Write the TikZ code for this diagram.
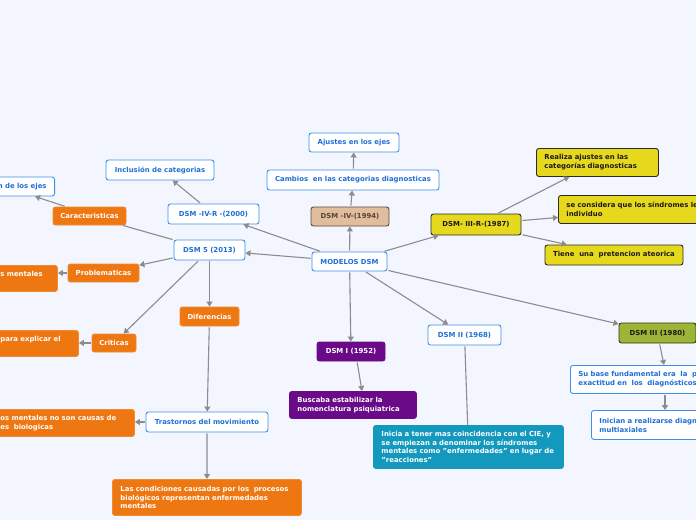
\documentclass[tikz,border=0pt]{standalone}
\usepackage{fontspec}
\setmainfont{DejaVu Sans}
\usetikzlibrary{arrows.meta}
\definecolor{bg}{HTML}{F3F6FE}
\definecolor{bluebd}{HTML}{3D8FEA}
\definecolor{bluetx}{HTML}{1E6FD8}
\definecolor{orfill}{HTML}{EE7711}
\definecolor{orbd}{HTML}{F08A33}
\definecolor{yefill}{HTML}{E6D81C}
\definecolor{darkbd}{HTML}{2A2A2A}
\definecolor{darktx}{HTML}{1A1A1A}
\definecolor{tanfill}{HTML}{E0BD9C}
\definecolor{tanbd}{HTML}{5C4B3B}
\definecolor{tantx}{HTML}{5A4535}
\definecolor{olfill}{HTML}{9DB536}
\definecolor{olbd}{HTML}{2E3A10}
\definecolor{pufill}{HTML}{6B0A88}
\definecolor{tefill}{HTML}{1399BD}
\definecolor{linec}{HTML}{8C8C8C}
\newcommand{\tf}{\fontsize{6.9}{8.8}\selectfont\bfseries}
\begin{document}
\begin{tikzpicture}[x=1pt,y=-1pt,
  box/.style={rounded corners=2.5pt, line width=0.9pt, inner sep=0pt, font=\tf, align=center},
  bl/.style={box, draw=bluebd, fill=white, text=bluetx},
  orb/.style={box, draw=orbd, fill=orfill, text=white},
  ye/.style={box, draw=darkbd, fill=yefill, text=darktx},
  tanb/.style={box, draw=tanbd, fill=tanfill, text=tantx},
  olb/.style={box, draw=olbd, fill=olfill, text=darktx},
  pub/.style={box, draw=pufill, fill=pufill, text=white},
  teb/.style={box, draw=tefill, fill=tefill, text=white},
  ml/.style={anchor=north west, align=left, inner xsep=8pt, text width=#1},
  arr/.style={draw=linec, line width=1.1pt, -{Triangle[width=6pt,length=5pt]}, shorten <=1pt},
  ln/.style={draw=linec, line width=1.1pt, shorten <=1pt}
]
\fill[bg] (0,0) rectangle (696,520);
\useasboundingbox (0,0) rectangle (696,520);

\node[bl, minimum width=75pt, minimum height=19pt] (m) at (349.5,261.5) {MODELOS DSM};
\node[tanb, minimum width=78pt, minimum height=19pt] (d94) at (350,216.5) {DSM -IV-(1994)};
\node[bl, minimum width=172pt, minimum height=20pt] (camb) at (353,180) {Cambios\ \ en las categorias diagnosticas};
\node[bl, minimum width=90pt, minimum height=19pt] (ajus) at (354,142.5) {Ajustes en los ejes};
\node[ye, minimum width=90pt, minimum height=21pt] (d87) at (476,224.5) {DSM- III-R-(1987)};
\node[ye, ml=106pt, minimum height=28pt] (real) at (536,148) {Realiza ajustes en las\\categorías diagnosticas};
\node[ye, ml=170pt, minimum height=28pt] (secons) at (558,195) {se considera que los síndromes le\\individuo};
\node[ye, minimum width=138pt, minimum height=20pt] (tiene) at (614,255) {Tiene\ \ una\ \ pretencion ateorica};
\node[olb, minimum width=77pt, minimum height=20pt] (d80) at (657.5,333) {DSM III (1980)};
\node[bl, ml=150pt, minimum height=28pt] (subase) at (570,365) {Su base fundamental era\ \ la\ \ p\\exactitud en\ \ los\ \ diagnósticos};
\node[bl, ml=150pt, minimum height=29pt] (inic) at (591,410) {Inician a realizarse diagnósticos\\multiaxiales};
\node[bl, minimum width=73pt, minimum height=20pt] (d68) at (464.5,335) {DSM II (1968)};
\node[teb, ml=174pt, minimum height=43pt] (ini) at (373,425) {Inicia a tener mas coincidencia con el CIE, y\\se empiezan a denominar los síndromes\\mentales como "enfermedades" en lugar de\\"reacciones"};
\node[pub, minimum width=68pt, minimum height=19pt] (d52) at (351,351.5) {DSM I (1952)};
\node[pub, ml=111pt, minimum height=27pt] (busc) at (289,391) {Buscaba estabilizar la\\nomenclatura psiquiatrica};
\node[bl, minimum width=71pt, minimum height=20pt] (d5) at (209.5,250) {DSM 5 (2013)};
\node[bl, minimum width=91pt, minimum height=20pt] (d00) at (213.5,214) {DSM -IV-R -(2000)};
\node[bl, minimum width=108pt, minimum height=20pt] (incl) at (160,170) {Inclusión de categorias};
\node[orb, minimum width=73pt, minimum height=18pt] (car) at (89.5,216) {Caracteristicas};
\node[bl, anchor=east, inner xsep=8pt, minimum height=19pt] (ejes) at (55,186.5) {n de los ejes};
\node[orb, minimum width=71pt, minimum height=18pt] (prob) at (103.5,273) {Problematicas};
\node[orb, ml=49pt, minimum height=26pt] (ment) at (-8,265) {s mentales\\\mbox{}};
\node[orb, minimum width=44pt, minimum height=18pt] (crit) at (114,343) {Criticas};
\node[orb, ml=70pt, minimum height=26pt] (para) at (-8,330) {para explicar el\\\mbox{}};
\node[orb, minimum width=59pt, minimum height=19pt] (dif) at (209.5,316.5) {Diferencias};
\node[bl, minimum width=122pt, minimum height=20pt] (tras) at (207,422) {Trastornos del movimiento};
\node[orb, ml=126pt, minimum height=27pt] (osm) at (-8,409) {os mentales no son causas de\\es\ \ biologicas};
\node[orb, ml=173pt, minimum height=36pt] (cond) at (112,479) {Las condiciones causadas por los\ \ procesos\\biológicos representan enfermedades\\mentales};

% connectors
\draw[arr] (m) -- (d94);
\draw[arr] (d94) -- (camb);
\draw[arr] (camb) -- (ajus);
\draw[arr] (m) -- (d87);
\draw[arr] (d87) -- (real);
\draw[arr] (d87) -- (secons);
\draw[arr] (d87) -- (tiene);
\draw[arr] (m) -- (d80);
\draw[arr] ([xshift=2pt]d80.south) -- ([xshift=94pt]subase.north west);
\draw[arr] ([xshift=95pt]subase.south west) -- ([xshift=74pt]inic.north west);
\draw[arr] (m) -- (d68);
\draw[ln] (d68) -- (ini);
\draw[arr] (m) -- (d52);
\draw[arr] ([xshift=6pt]d52.south) -- ([xshift=73pt]busc.north west);
\draw[arr] (m) -- (d5);
\draw[arr] (m) -- (d00);
\draw[arr] (d00) -- (incl);
\draw[ln] (d5) -- (car);
\draw[arr] ([xshift=13pt]car.north west) -- ([xshift=-20pt]ejes.south east);
\draw[arr] (d5) -- (prob);
\draw[arr] (prob.west) -- (prob.west -| ment.east);
\draw[arr] (d5) -- (crit);
\draw[arr] (crit.west) -- (crit.west -| para.east);
\draw[arr] (d5) -- (dif);
\draw[arr] (dif) -- (tras);
\draw[arr] (tras.west) -- (tras.west -| osm.east);
\draw[arr] (tras) -- (cond);
\end{tikzpicture}
\end{document}
